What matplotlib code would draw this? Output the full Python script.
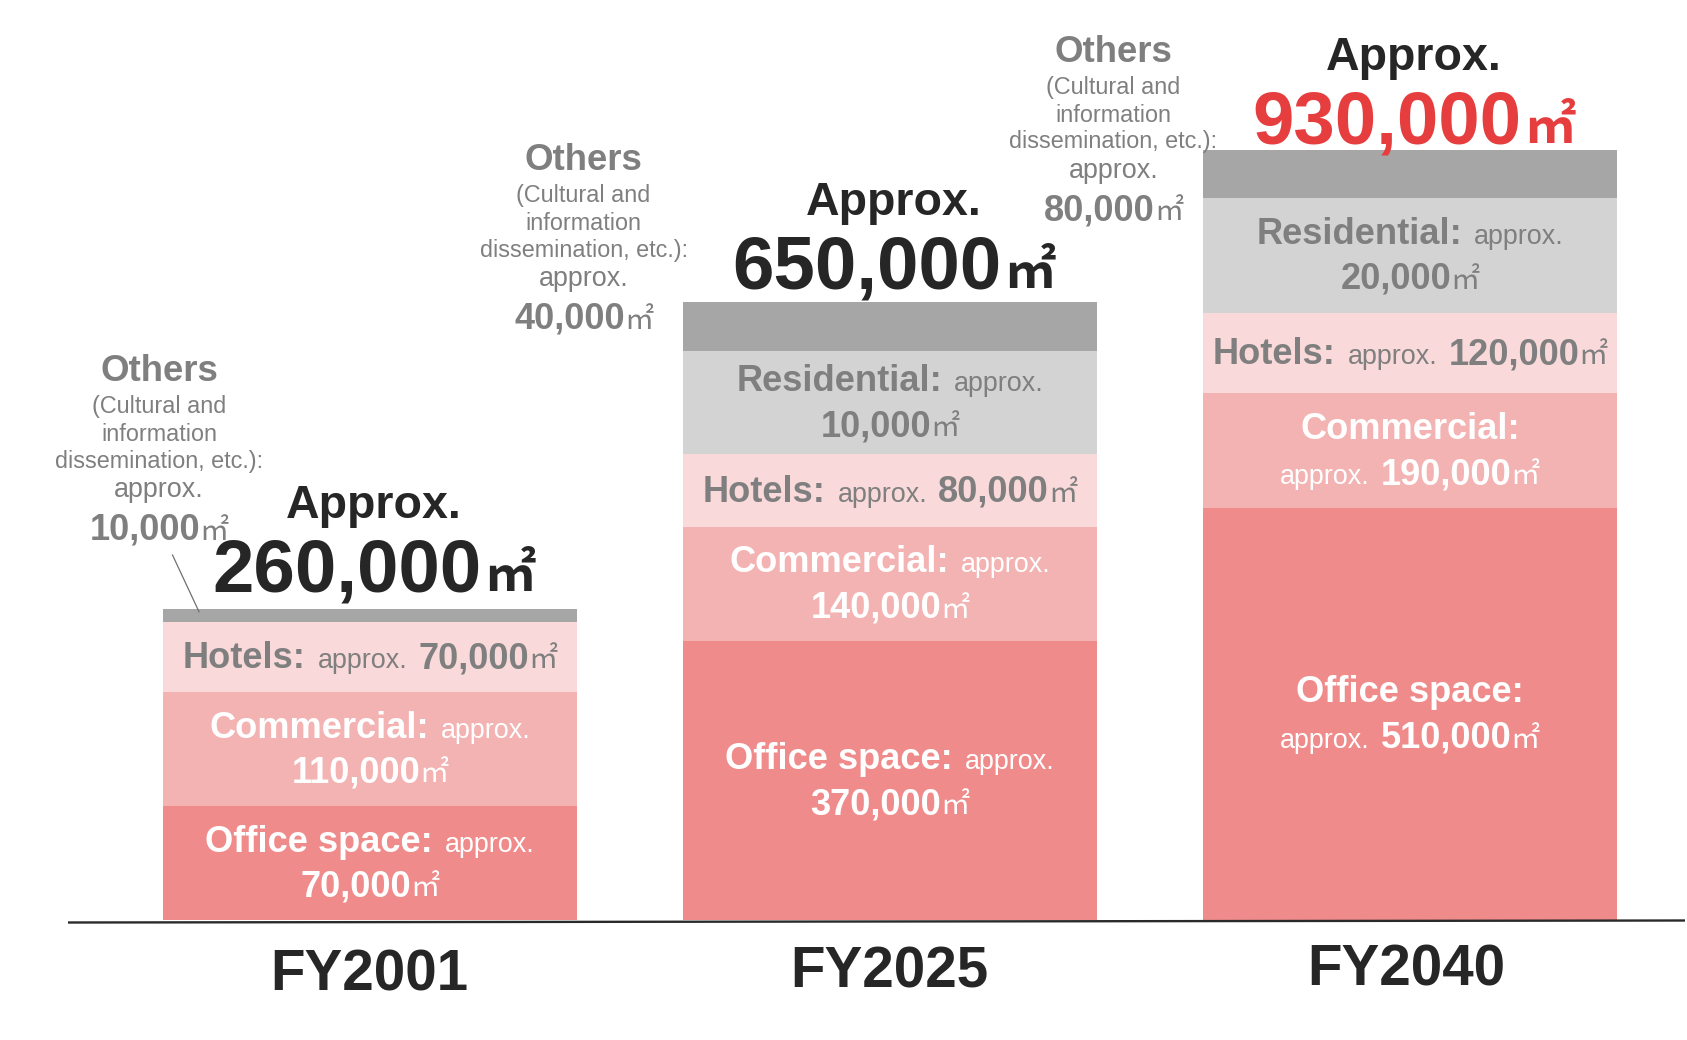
import matplotlib
matplotlib.use('Agg')
import matplotlib.pyplot as plt
from matplotlib.font_manager import FontProperties

# ---------------- data ----------------
years = ['FY2001', 'FY2025', 'FY2040']
categories = ['Office space', 'Commercial', 'Hotels', 'Residential', 'Others']
# floor area (thousand m2)
office = [70, 370, 510]
commercial = [110, 140, 190]
hotels = [70, 80, 120]
residential = [0, 10, 20]
others = [10, 40, 80]
totals = [260, 650, 930]
# segment heights as drawn in the reference (illustrative, not to scale)
office_h = [114, 279, 412]
commercial_h = [114, 114, 115]
hotels_h = [70, 73, 80]
residential_h = [0, 103, 115]
others_h = [13, 49, 48]

# ---------------- style / layout ----------------
seg_colors = ['#F08B8B', '#F3B3B3', '#F9D9D9', '#D3D3D3', '#A6A6A6']
seg_text = ['white', 'white', '#7F7F7F', '#7F7F7F', '#7F7F7F']
GRAY = '#7F7F7F'
DARK = '#262626'
RED = '#E63E3E'

W, H = 1687, 1040
BASE = 920          # pixel row of bar bottoms
bar_x0, bar_step, bar_w = 370, 520, 414.5

SANS = ['Liberation Sans', 'Arial', 'DejaVu Sans']
CJK = ['Noto Sans CJK JP', 'DejaVu Sans']

def fp(size, bold=False, fam=SANS):
    return FontProperties(family=fam, weight='bold' if bold else 'normal', size=size)

F_LABEL = fp(26.1, True)
F_APPROX = fp(19.4)
F_NUM = fp(26.1, True)
F_UNIT = fp(21, False, CJK)
F_SMALL = fp(16.85)
F_OTHERS = fp(26.4, True)
F_TOT_A = fp(33.5, True)
F_TOT_N = fp(53.6, True)
F_TOT_U = fp(37, True, CJK)
F_YEAR = fp(40.7, True)

UNIT_GAP = -1
TOT_UNIT_GAP = 2

fig = plt.figure(figsize=(W / 100, H / 100), dpi=100)
ax = fig.add_axes([0, 0, 1, 1])
ax.set_xlim(0, W)
ax.set_ylim(BASE - H, BASE)
ax.axis('off')
R = fig.canvas.get_renderer()


def yrow(row):
    return BASE - row


def place_runs(cx, row, runs):
    """runs: (text, fontprops, color, gap_before) laid out left to right, centred on cx."""
    objs = [ax.text(0, yrow(row), s, fontproperties=f, color=c, ha='left', va='baseline')
            for s, f, c, g in runs]
    ws = [o.get_window_extent(renderer=R).width for o in objs]
    total = sum(ws) + sum(r[3] for r in runs[1:])
    x = cx - total / 2
    for i, (o, w) in enumerate(zip(objs, ws)):
        if i > 0:
            x += runs[i][3]
        o.set_x(x)
        x += w


def fmt(v):
    return f"{v * 1000:,}"


vals = [office, commercial, hotels, residential, others]
heights = [office_h, commercial_h, hotels_h, residential_h, others_h]
centers = [bar_x0 + bar_step * i for i in range(len(years))]

# ---------------- bars ----------------
bottoms = [0.0] * len(years)
seg_bounds = []
for k in range(len(categories)):
    ax.bar(centers, heights[k], width=bar_w, bottom=bottoms, color=seg_colors[k],
           linewidth=0, zorder=2)
    seg_bounds.append([(b, b + h) for b, h in zip(bottoms, heights[k])])
    bottoms = [b + h for b, h in zip(bottoms, heights[k])]

# baseline
ax.plot([68, 1685], [yrow(922.5), yrow(920.5)], color='#2A2A2A', lw=1.7, zorder=3,
        solid_capstyle='butt')

# ---------------- in-bar labels ----------------
# split: 'one' = single line, 'la' = label+approx / number, 'l' = label / approx+number
splits = {
    0: {0: 'la', 1: 'la', 2: 'one'},
    1: {0: 'la', 1: 'la', 2: 'one', 3: 'la'},
    2: {0: 'l', 1: 'l', 2: 'one', 3: 'la'},
}
LINE_GAP = 45
for i in range(len(years)):
    for k, mode in splits[i].items():
        col = seg_text[k]
        lab = (categories[k] + ':', F_LABEL, col, 0)
        apx = ('approx.', F_APPROX, col, 12)
        num = (fmt(vals[k][i]), F_NUM, col, 11)
        unit = ('㎡', F_UNIT, col, UNIT_GAP)
        b0, b1 = seg_bounds[k][i]
        c_row = BASE - (b0 + b1) / 2
        if mode == 'one':
            place_runs(centers[i], c_row + 11, [lab, apx, num, unit])
        elif mode == 'la':
            place_runs(centers[i], c_row - 11.5, [lab, apx])
            place_runs(centers[i], c_row - 11.5 + LINE_GAP, [(num[0], F_NUM, col, 0), unit])
        else:
            place_runs(centers[i], c_row - 11.5, [lab])
            place_runs(centers[i], c_row - 11.5 + LINE_GAP, [(apx[0], F_APPROX, col, 0), num, unit])

# ---------------- totals above bars ----------------
tot_pad = [17.6, 13.7, 6.7]
tot_colors = [DARK, DARK, RED]
for i in range(len(years)):
    top_row = BASE - bottoms[i]
    nb = top_row - tot_pad[i]
    place_runs(centers[i] + 4, nb - 73, [('Approx.', F_TOT_A, DARK, 0)])
    place_runs(centers[i] + 4, nb, [(fmt(totals[i]), F_TOT_N, tot_colors[i], 0),
                                   ('㎡', F_TOT_U, tot_colors[i], TOT_UNIT_GAP)])

# ---------------- "Others" callouts ----------------
others_anchor = [(159, 381), (583.6, 170), (1113.5, 61.7)]
for i, (cx, r0) in enumerate(others_anchor):
    place_runs(cx, r0, [('Others', F_OTHERS, GRAY, 0)])
    place_runs(cx, r0 + 32, [('(Cultural and', F_SMALL, GRAY, 0)])
    place_runs(cx, r0 + 60.3, [('information', F_SMALL, GRAY, 0)])
    place_runs(cx, r0 + 86.7, [('dissemination, etc.):', F_SMALL, GRAY, 0)])
    place_runs(cx, r0 + 116, [('approx.', F_APPROX, GRAY, 0)])
    place_runs(cx, r0 + 158.7, [(fmt(others[i]), F_NUM, GRAY, 0), ('㎡', F_UNIT, GRAY, UNIT_GAP)])

# leader line for FY2001 others
ax.plot([172.5, 199], [yrow(555), yrow(611.7)], color='#707070', lw=0.9, zorder=3)

# ---------------- year labels ----------------
year_rows = [990.7, 988, 985]
year_dx = [-1, -1, -4]
for i, yr in enumerate(years):
    place_runs(centers[i] + year_dx[i], year_rows[i], [(yr, F_YEAR, DARK, 0)])

fig.savefig('out.png', dpi=100, facecolor='white')
